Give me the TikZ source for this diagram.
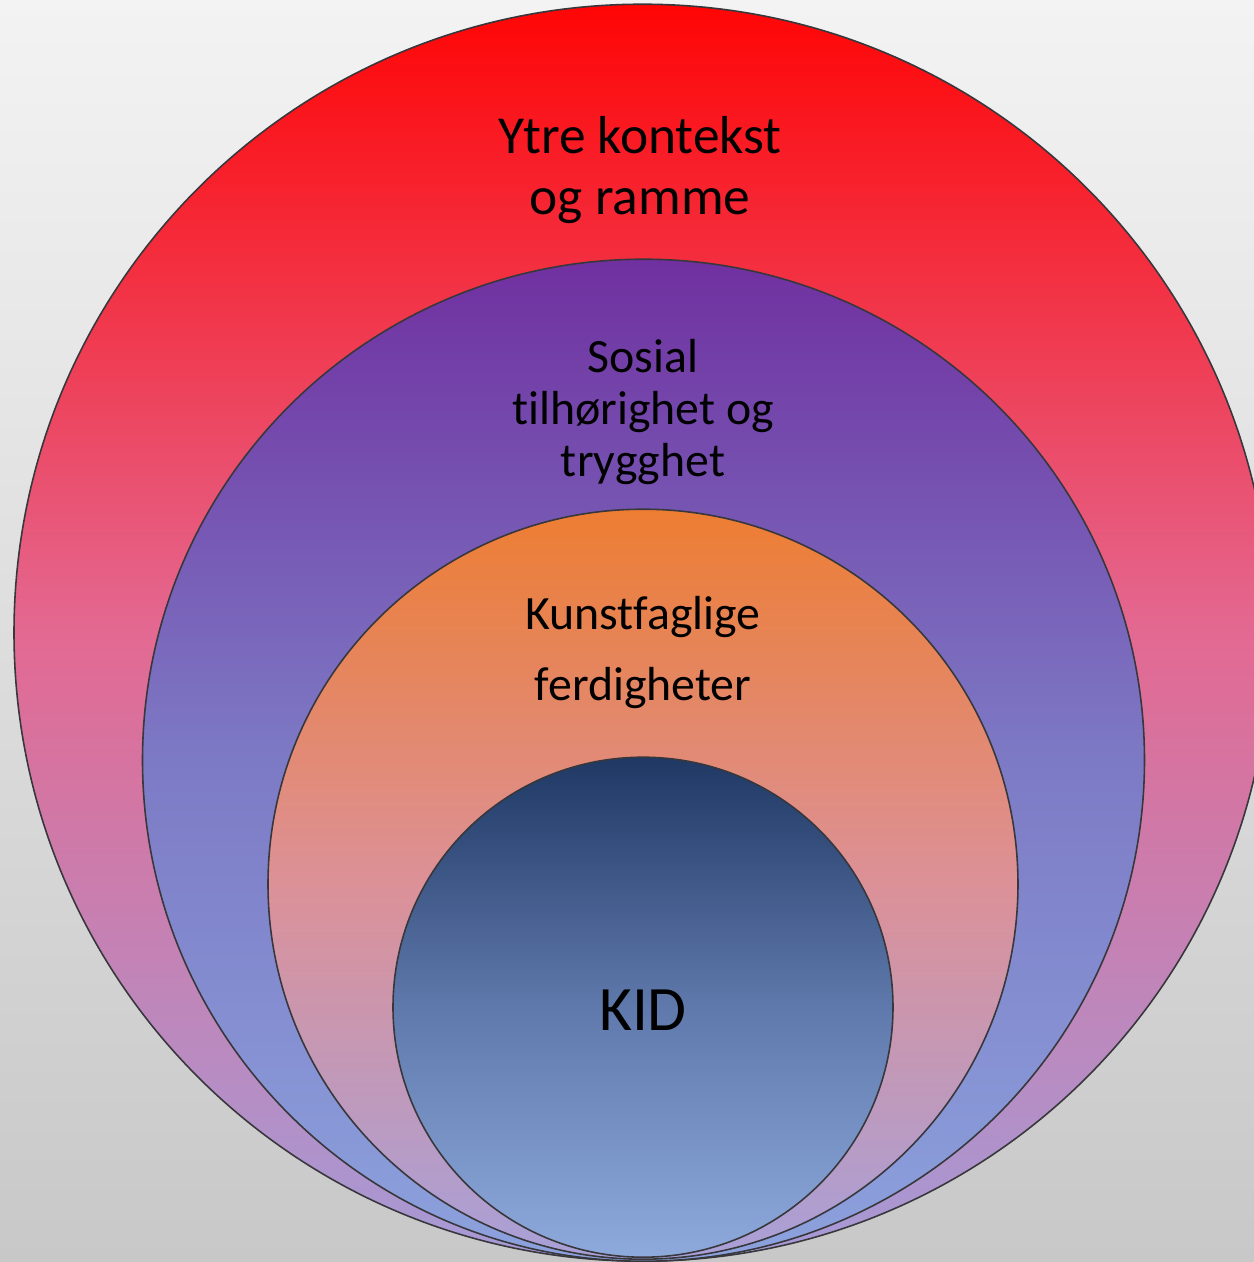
\documentclass[tikz,border=0pt]{standalone}
\usepackage{fontspec}
\setmainfont{Carlito}[Ligatures=CommonOff]
\usetikzlibrary{positioning}

\definecolor{bgtop}{RGB}{243,243,243}
\definecolor{bgbot}{RGB}{200,200,200}
\definecolor{ringline}{RGB}{55,55,60}
\definecolor{ytretop}{RGB}{255,5,5}
\definecolor{ytremid}{RGB}{227,105,146}
\definecolor{ytrebot}{RGB}{165,155,215}
\definecolor{sosialtop}{RGB}{112,48,160}
\definecolor{sosialmid}{RGB}{125,122,197}
\definecolor{sosialbot}{RGB}{140,162,221}
\definecolor{kunsttop}{RGB}{237,125,50}
\definecolor{kunstmid}{RGB}{220,145,152}
\definecolor{kunstbot}{RGB}{168,160,216}
\definecolor{kidtop}{RGB}{31,56,100}
\definecolor{kidmid}{RGB}{95,121,172}
\definecolor{kidbot}{RGB}{142,169,219}

\tikzset{
	ring/.style={circle, draw=ringline, line width=0.45pt, inner sep=0pt, anchor=south},
	lbl/.style={align=center, text=black, inner sep=0pt},
}

\begin{document}
\begin{tikzpicture}[x=0.1mm, y=0.1mm]
	\useasboundingbox (0,0) rectangle (1254,1262);
	% background
	\shade[top color=bgtop, bottom color=bgbot] (0,0) rectangle (1254,1262);
	\coordinate (base) at (643,0);
	% rings, all touching at the bottom
	\node[ring, minimum size=12.57cm, top color=ytretop, bottom color=ytrebot, middle color=ytremid] (ytre) at ([xshift=-0.05mm]base) {};
	\node[ring, minimum size=10.02cm, top color=sosialtop, bottom color=sosialbot, middle color=sosialmid] (sosial) at ([xshift=0.05mm]base) {};
	\node[ring, minimum size=7.50cm, top color=kunsttop, bottom color=kunstbot, middle color=kunstmid] (kunst) at ([yshift=0.2mm]base) {};
	\node[ring, minimum size=5.00cm, top color=kidtop, bottom color=kidbot, middle color=kidmid] (kid) at ([yshift=0.4mm]base) {};
	% labels
	\node[lbl, font=\fontsize{15.2}{17.1}\selectfont] (ytretxt) at (640,1092) {Ytre kontekst\\og ramme};
	\node[lbl, font=\fontsize{13.6}{14.8}\selectfont] (sosialtxt) at (643,850) {Sosial\\tilhørighet og\\trygghet};
	\node[lbl, font=\fontsize{13.6}{20.2}\selectfont] (kunsttxt) at (643,609) {Kunstfaglige\\ferdigheter};
	\node[lbl, font=\fontsize{18}{21}\selectfont] (kidtxt) at (643,252) {KID};
\end{tikzpicture}
\end{document}
